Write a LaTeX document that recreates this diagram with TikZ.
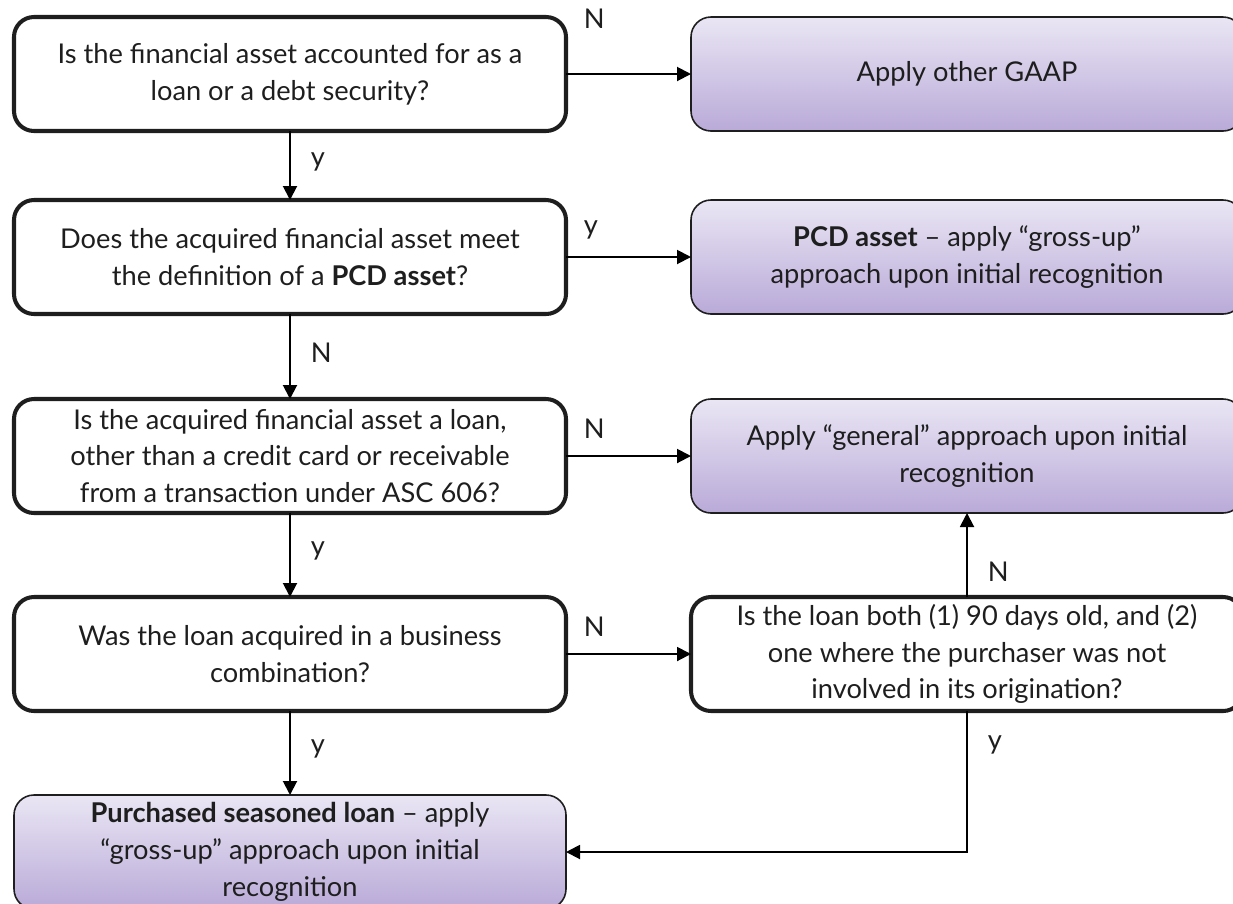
\documentclass[tikz,border=0pt]{standalone}
\usepackage{fontspec}
\setmainfont{Lato}
\usepackage{tikz}
\usetikzlibrary{shapes.geometric, positioning, arrows, arrows.meta}

\definecolor{purpTop}{HTML}{EAE6F4}
\definecolor{purpBot}{HTML}{B9AAD8}
\definecolor{purpLine}{HTML}{7055A0}
\definecolor{txt}{HTML}{1E1E1E}

\begin{document}
\begin{tikzpicture}[line width=1.1pt, font=\fontsize{15.5}{21}\selectfont]
\useasboundingbox (0,0) rectangle (24.66,-18.06);
\clip (0,0) rectangle (24.66,-18.06);
% Block styles
\tikzstyle{ask}=[inner sep=0pt, outer sep=0pt, draw=black, line width=2.3pt, rounded corners=4mm, txt, align=center, minimum width=11.04cm, minimum height=2.28cm]
\tikzstyle{act}=[inner sep=0pt, outer sep=0pt, draw=purpLine, line width=.9pt, rounded corners=4mm, top color=purpTop, bottom color=purpBot, txt, align=center, minimum width=11.04cm, minimum height=2.28cm]
\tikzstyle{arr}=[-{Triangle[length=2.8mm, width=2.8mm]}, line width=1.1pt]
\tikzstyle{lbl}=[inner sep=0pt, txt]
% Col 1
\node[ask, anchor=north west] (Q1) at (0.28,-0.34) {Is the financial asset accounted for as a\\loan or a debt security?};
\node[ask, below=1.38cm of Q1] (Q2) {Does the acquired financial asset meet\\the definition of a \textbf{PCD asset}?};
\node[ask, below=1.7cm of Q2] (Q3) {Is the acquired financial asset a loan,\\other than a credit card or receivable\\from a transaction under ASC 606?};
\node[ask, below=1.68cm of Q3] (Q4) {Was the loan acquired in a business\\combination?};
\node[act, below=1.68cm of Q4] (A5) {\textbf{Purchased seasoned loan} – apply\\“gross-up” approach upon initial\\recognition};
% Col 2
\node[act, right=2.5cm of Q1] (A1) {Apply other GAAP};
\node[act, right=2.5cm of Q2] (A2) {\textbf{PCD asset} – apply “gross-up”\\approach upon initial recognition};
\node[act, right=2.5cm of Q3] (A3) {Apply “general” approach upon initial\\recognition};
\node[ask, right=2.5cm of Q4] (Q5) {Is the loan both (1) 90 days old, and (2)\\one where the purchaser was not\\involved in its origination?};
% Arrows
\draw[arr] (Q1)--(Q2) node[lbl, pos=.45, right=4mm] {y};
\draw[arr] (Q2)--(Q3) node[lbl, pos=.45, right=4mm] {N};
\draw[arr] (Q3)--(Q4) node[lbl, pos=.45, right=4mm] {y};
\draw[arr] (Q4)--(A5) node[lbl, pos=.45, right=4mm] {y};
\draw[arr] (Q1)--(A1) node[lbl, pos=0, above right=8.9mm and 3.4mm] {N};
\draw[arr] (Q2)--(A2) node[lbl, pos=0, above right=3.3mm and 3.4mm] {y};
\draw[arr] (Q3)--(A3) node[lbl, pos=0, above right=3.3mm and 3.4mm] {N};
\draw[arr] (Q4)--(Q5) node[lbl, pos=0, above right=3.3mm and 3.4mm] {N};
\draw[arr] (Q5)--(A3) node[lbl, pos=.3, right=4mm] {N};
\draw[arr] (Q5.south) |- (A5.east) node[lbl, pos=.12, right=4mm] {y};
\end{tikzpicture}
\end{document}
